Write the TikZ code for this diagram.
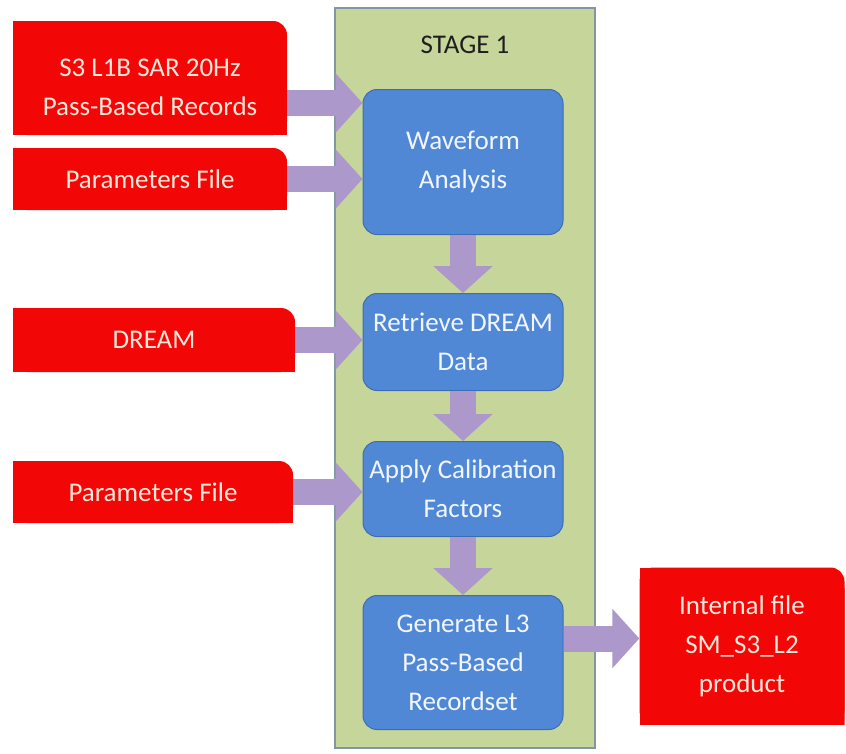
\documentclass[tikz,border=0pt]{standalone}
\usepackage{fontspec}
\setmainfont{Carlito}
\usetikzlibrary{positioning,arrows.meta}

\definecolor{redfill}{RGB}{242,6,6}
\definecolor{redtext}{RGB}{255,232,218}
\definecolor{bluefill}{RGB}{80,136,214}
\definecolor{blueborder}{RGB}{62,108,178}
\definecolor{bluetext}{RGB}{242,246,255}
\definecolor{greenfill}{RGB}{198,214,154}
\definecolor{greenborder}{RGB}{132,150,162}
\definecolor{arrowfill}{RGB}{172,152,202}
\definecolor{stagetext}{RGB}{30,30,30}

\tikzset{
  redbox/.style={rectangle, minimum width=274pt, minimum height=62pt, inner sep=0pt, align=center, text=redtext,
    path picture={
      \fill[redfill, rounded corners=14pt] (path picture bounding box.south west) rectangle (path picture bounding box.north east);
      \fill[redfill] (path picture bounding box.south west) rectangle ([xshift=-20pt]path picture bounding box.north east);
      \fill[redfill] (path picture bounding box.south west) rectangle ([yshift=-20pt]path picture bounding box.north east);
    }},
  redlabel/.style={text=redtext, align=center},
  bluebox/.style={rectangle, rounded corners=14pt, fill=bluefill, draw=blueborder, line width=1pt, align=center, text=bluetext, minimum width=200pt},
  fatarrow/.style={draw=arrowfill, line width=26pt, -{Triangle[length=27pt, width=58pt]}}
}

\begin{document}
\begin{tikzpicture}[x=1pt, y=-1pt, font=\fontsize{27}{39}\selectfont]
  \useasboundingbox (0,0) rectangle (846,753);

  \node[rectangle, fill=greenfill, draw=greenborder, line width=1.2pt, minimum width=260pt, minimum height=740pt] (stage) at (465,378) {};
  \node[text=stagetext] (stageLabel) at (465,45) {STAGE 1};

  \node[bluebox, minimum height=145pt] (waveform) at (463,162) {Waveform\\Analysis};
  \node[bluebox, minimum height=97pt] (retrieve) [below = 58pt of waveform] {Retrieve DREAM\\Data};
  \node[bluebox, minimum height=95pt] (calib) [below = 50pt of retrieve] {Apply Calibration\\Factors};
  \node[bluebox, minimum height=134pt] (generate) [below = 58pt of calib] {Generate L3\\Pass-Based\\Recordset};

  \node[redbox, minimum height=114pt, label={[redlabel, yshift=-9pt]center:{S3 L1B SAR 20Hz\\Pass-Based Records}}] (inRecords) at (150,78) {};
  \node[redbox] (inParams) at (150,179) {Parameters File};
  \node[redbox, minimum width=282pt, minimum height=64pt] (inDream) at (154,340) {DREAM};
  \node[redbox, minimum width=280pt] (inParamsB) at (153,492) {Parameters File};
  \node[redbox, minimum width=205pt, minimum height=157pt] (output) at (742,646) {Internal file\\SM\_S3\_L2\\product};

  \coordinate (recOut) at ([yshift=-25pt]inRecords.east);
  \coordinate (genOut) at ([yshift=24pt]generate.east);

  \draw[fatarrow] (recOut) -- (recOut -| waveform.west);
  \draw[fatarrow] (inParams.east) -- (inParams.east -| waveform.west);
  \draw[fatarrow] (inDream.east) -- (inDream.east -| retrieve.west);
  \draw[fatarrow] (inParamsB.east) -- (inParamsB.east -| calib.west);

  \draw[fatarrow] (waveform) -- (retrieve);
  \draw[fatarrow] (retrieve) -- (calib);
  \draw[fatarrow] (calib) -- (generate);

  \draw[fatarrow] (genOut) -- (genOut -| output.west);
\end{tikzpicture}
\end{document}
